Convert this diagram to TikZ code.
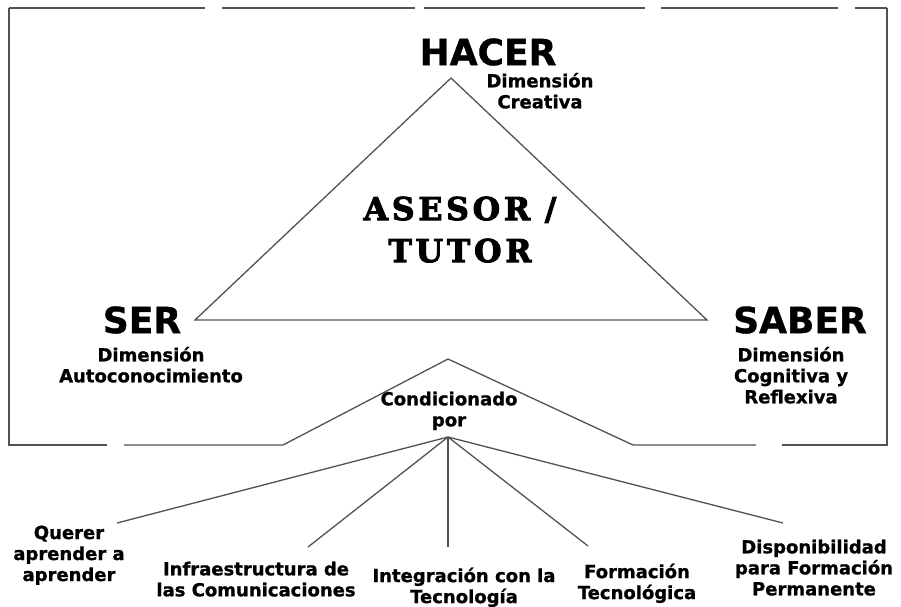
\documentclass[tikz,border=0pt]{standalone}
\usepackage{fontspec}
\setmainfont{DejaVu Sans}[BoldFeatures={FakeBold=1}]
\newfontfamily\stencilfont{DejaVu Serif}[LetterSpace=12, BoldFeatures={FakeBold=3}]
\usetikzlibrary{positioning}

\begin{document}
\begin{tikzpicture}[x=1pt, y=-1pt, line width=1.3pt,
	big/.style = {font=\fontsize{36}{40}\selectfont\bfseries, inner sep=0pt},
	sub/.style = {font=\fontsize{18}{21}\selectfont\bfseries, align=center, inner sep=0pt},
	edge/.style = {draw=black!68}]
		\useasboundingbox (0,0) rectangle (901,606);
		% broken frame
		\draw[edge] (9,8) -- (205,8);
		\draw[edge] (222,8) -- (415,8);
		\draw[edge] (424,8) -- (645,8);
		\draw[edge] (661,8) -- (838,8);
		\draw[edge] (855,8) -- (887,8);
		\draw[edge] (9,8) -- (9,445) -- (107,445);
		\draw[edge] (887,8) -- (887,445) -- (782,445);
		\draw[edge] (124,445) -- (283,445) -- (448,359) -- (633,445) -- (756,445);
		% triangle
		\coordinate (top) at (451,78);
		\coordinate (left) at (195,320);
		\coordinate (right) at (707,320);
		\draw[edge] (top) -- (left) -- (right) -- cycle;
		\node[big] (hacer) at (488,52) {HACER};
		\node[big] (ser) at (142,320) {SER};
		\node[big] (saber) at (800,320) {SABER};
		\node[sub] (hacerdim) [below=6pt of hacer, xshift=52pt] {Dimensión\\Creativa};
		\node[sub] (serdim) [below=12pt of ser, xshift=9pt] {Dimensión\\Autoconocimiento};
		\node[sub] (saberdim) [below=12pt of saber, xshift=-9pt] {Dimensión\\Cognitiva y\\Reflexiva};
		\node[inner sep=0pt, align=center, font=\fontsize{31.5}{42}\selectfont\stencilfont\bfseries] (asesor) at (460,196) [anchor=north] {ASESOR /\\TUTOR};
		% conditions
		\node[sub] (cond) at (449,391) [anchor=north] {Condicionado\\por};
		\coordinate (c) at (448,437);
		\node[sub] (querer) at (69,525) [anchor=north] {Querer\\aprender a\\aprender};
		\node[sub] (infra) at (256,561) [anchor=north] {Infraestructura de\\las Comunicaciones};
		\node[sub] (integ) at (464,567) [anchor=north] {Integración con la\\Tecnología};
		\node[sub] (forma) at (637,563) [anchor=north] {Formación\\Tecnológica};
		\node[sub] (dispo) at (814,539) [anchor=north] {Disponibilidad\\para Formación\\Permanente};
		\coordinate (q) at (117,523);
		\coordinate (i) at (308,547);
		\coordinate (t) at (448,547);
		\coordinate (f) at (588,546);
		\coordinate (d) at (783,523);
		\draw[edge] (c) -- (q);
		\draw[edge] (c) -- (i);
		\draw[edge] (c) -- (t);
		\draw[edge] (c) -- (f);
		\draw[edge] (c) -- (d);
	\end{tikzpicture}
\end{document}
